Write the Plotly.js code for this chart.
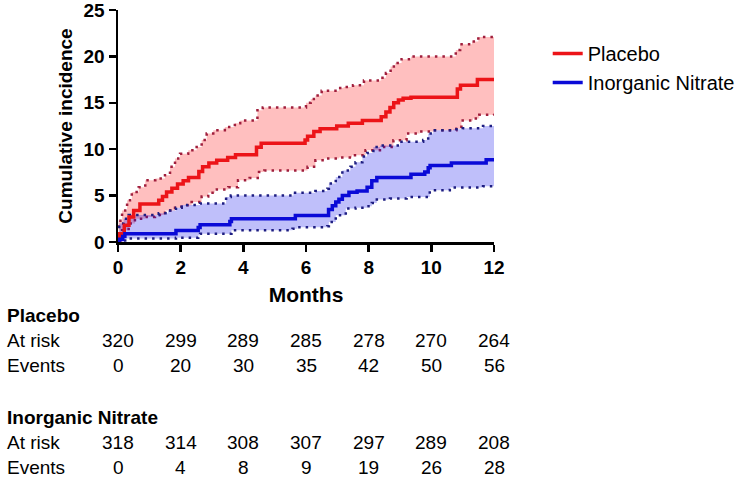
<!DOCTYPE html>
<html>
<head>
<meta charset="utf-8">
<script src="https://cdn.plot.ly/plotly-3.0.1.min.js"></script>
<style>html,body{margin:0;padding:0;background:#fff;}#chart{width:750px;height:479px;}</style>
</head>
<body>
<div id="chart"></div>
<script>
// ---- Data ----
const seriesNames = ["Placebo", "Inorganic Nitrate"];

// Placebo cumulative incidence (%)
const placeboT = [0, 0.05, 0.2, 0.35, 0.5, 0.7, 1.3, 1.42, 1.55, 1.72, 1.9, 2.08, 2.25, 2.58, 2.7, 2.9, 3.15, 3.5, 3.75, 4.42, 4.57, 5.97, 6.05, 6.25, 6.45, 6.98, 7.35, 7.8, 8.4, 8.55, 8.68, 8.8, 8.95, 9.1, 9.35, 10.83, 10.93, 11.47, 12];
const placeboV = [0, 0.9, 1.8, 2.7, 3.4, 4.1, 4.5, 4.9, 5.4, 5.8, 6.25, 6.6, 6.95, 7.6, 8.1, 8.5, 8.8, 9.1, 9.4, 10.2, 10.65, 11.0, 11.4, 11.9, 12.2, 12.5, 12.8, 13.1, 13.5, 14.0, 14.5, 15.0, 15.3, 15.5, 15.6, 16.5, 16.9, 17.5, 17.5];

const placeboUpT = [0, 0.02, 0.13, 0.29, 0.44, 0.66, 0.87, 1.19, 1.5, 1.66, 1.82, 1.98, 2.24, 2.51, 2.67, 2.83, 3.04, 3.41, 3.73, 3.9, 4.45, 4.62, 6.0, 6.15, 6.3, 6.5, 7.05, 7.2, 7.5, 7.85, 8.4, 8.55, 8.7, 8.85, 9.05, 9.35, 10.78, 10.92, 11.3, 11.5, 12];
const placeboUpV = [0, 2.3, 3.4, 4.5, 5.4, 5.9, 6.65, 6.85, 7.2, 8.1, 9.0, 9.5, 9.9, 10.25, 11.0, 11.7, 12.05, 12.4, 12.8, 13.1, 14.2, 14.5, 15.0, 15.4, 15.8, 16.3, 16.6, 16.7, 16.9, 17.4, 17.7, 18.2, 18.9, 19.3, 19.7, 20.0, 20.7, 21.3, 21.6, 22.1, 22.2];

const placeboLoT = [0, 0.13, 0.34, 0.54, 0.86, 1.18, 1.5, 1.82, 2.03, 2.35, 2.67, 2.88, 3.09, 3.52, 3.83, 4.2, 4.5, 4.67, 6.05, 6.3, 6.58, 7.05, 7.47, 7.9, 8.36, 8.79, 9.21, 9.63, 10.06, 10.8, 10.96, 11.33, 11.53, 12];
const placeboLoV = [0, 1.26, 2.0, 2.5, 2.7, 2.9, 3.4, 3.7, 3.96, 4.3, 4.9, 5.3, 5.65, 5.9, 6.65, 6.9, 7.55, 7.7, 8.1, 8.8, 9.0, 9.1, 9.35, 9.9, 10.25, 10.97, 11.7, 11.9, 12.05, 12.2, 13.1, 13.3, 13.7, 13.8];

// Inorganic Nitrate cumulative incidence (%)
const nitrateT = [0, 0.05, 0.15, 0.22, 1.85, 2.56, 2.62, 3.57, 3.62, 5.66, 6.72, 6.84, 6.95, 7.05, 7.16, 7.37, 7.63, 7.95, 8.1, 8.26, 9.35, 9.79, 9.9, 9.96, 10.64, 11.75, 12];
const nitrateV = [0, 0.3, 0.6, 0.9, 1.25, 1.55, 1.85, 2.2, 2.5, 2.85, 3.5, 3.9, 4.3, 4.6, 5.0, 5.35, 5.5, 5.9, 6.6, 6.95, 7.3, 7.55, 8.0, 8.25, 8.5, 8.85, 8.85];

const nitrateUpT = [0, 0.04, 0.18, 0.34, 1.3, 1.6, 1.85, 2.03, 2.62, 3.45, 3.6, 5.6, 6.3, 6.68, 6.73, 6.95, 7.16, 7.42, 7.58, 7.8, 7.95, 8.15, 8.36, 9.0, 9.74, 9.9, 10.06, 10.7, 11.0, 11.65, 12];
const nitrateUpV = [0, 2.0, 2.5, 2.9, 3.1, 3.4, 3.7, 4.0, 4.15, 4.85, 5.0, 5.3, 5.5, 5.75, 6.3, 7.0, 7.7, 8.1, 8.6, 9.2, 9.6, 10.25, 10.4, 10.8, 11.0, 11.7, 12.05, 12.15, 12.25, 12.5, 12.6];

const nitrateLoT = [0, 0.23, 1.85, 2.56, 2.62, 3.62, 5.57, 5.73, 6.68, 6.73, 6.95, 7.27, 7.58, 7.95, 8.1, 8.26, 8.68, 9.21, 9.95, 10.59, 11.65, 12];
const nitrateLoV = [0, 0.37, 0.47, 0.72, 0.9, 1.26, 1.44, 1.6, 1.7, 2.16, 2.88, 3.6, 3.7, 3.85, 4.2, 4.57, 4.68, 4.85, 5.58, 5.87, 6.0, 6.2];

// Numbers at risk table
const tableMonths = [0, 2, 4, 6, 8, 10, 12];
const placeboAtRisk = [320, 299, 289, 285, 278, 270, 264];
const placeboEvents = [0, 20, 30, 35, 42, 50, 56];
const nitrateAtRisk = [318, 314, 308, 307, 297, 289, 208];
const nitrateEvents = [0, 4, 8, 9, 19, 26, 28];

// ---- Styles ----
const FONT = "Liberation Sans, Arial, Helvetica, sans-serif";
const RED = "rgb(236,20,24)";
const BLUE = "rgb(10,10,215)";
const RED_CI = "rgb(160,30,60)";
const BLUE_CI = "rgb(30,30,130)";
const RED_FILL = "rgba(255,0,0,0.25)";
const BLUE_FILL = "rgba(0,0,235,0.25)";
const DOTS = "2.5px,5px";

function band(t, v, color, fill) {
  return {
    x: t, y: v, type: "scatter", mode: "lines",
    line: {shape: "hv", color: color, width: 2.5, dash: DOTS},
    fill: fill ? "tonexty" : "none", fillcolor: fill || undefined,
    showlegend: false, hoverinfo: "skip"
  };
}

const traces = [
  band(placeboLoT, placeboLoV, RED_CI, null),
  band(placeboUpT, placeboUpV, RED_CI, RED_FILL),
  band(nitrateLoT, nitrateLoV, BLUE_CI, null),
  band(nitrateUpT, nitrateUpV, BLUE_CI, BLUE_FILL),
  {x: placeboT, y: placeboV, type: "scatter", mode: "lines", name: seriesNames[0],
   line: {shape: "hv", color: RED, width: 3.5}},
  {x: nitrateT, y: nitrateV, type: "scatter", mode: "lines", name: seriesNames[1],
   line: {shape: "hv", color: BLUE, width: 3.5}}
];

// ---- Layout ----
const M = {l: 118, r: 254, t: 10, b: 237};
const H = 479, W = 750;
const plotH = H - M.t - M.b;
const plotW = W - M.l - M.r;
const plotBottom = H - M.b;
const py = px => (plotBottom - px) / plotH;  // pixel row -> paper y
const pxX = px => (px - M.l) / plotW;         // pixel col -> paper x

const annotations = [];
function label(text, yPx, bold) {
  annotations.push({xref: "paper", yref: "paper", x: pxX(4), y: py(yPx),
    xanchor: "left", yanchor: "middle", showarrow: false,
    text: bold ? "<b>" + text + "</b>" : text,
    font: {family: FONT, size: 19, color: "#000"}});
}
function row(vals, yPx) {
  vals.forEach((v, i) => annotations.push({xref: "x", yref: "paper", x: tableMonths[i], y: py(yPx),
    xanchor: "center", yanchor: "middle", showarrow: false, text: String(v),
    font: {family: FONT, size: 19, color: "#000"}}));
}
label(seriesNames[0], 315, true);
label("At risk", 340, false); row(placeboAtRisk, 340);
label("Events", 366, false); row(placeboEvents, 366);
label(seriesNames[1], 417, true);
label("At risk", 442, false); row(nitrateAtRisk, 442);
label("Events", 467, false); row(nitrateEvents, 467);

const layout = {
  width: W, height: H,
  margin: M,
  paper_bgcolor: "#fff", plot_bgcolor: "#fff",
  font: {family: FONT, color: "#000"},
  xaxis: {
    range: [0, 12], tickvals: tableMonths, ticktext: tableMonths.map(String),
    showgrid: false, zeroline: false, showline: true, linecolor: "#000", linewidth: 2.5,
    ticks: "outside", ticklen: 7, tickwidth: 2.5, tickcolor: "#000", ticklabeloverflow: "allow",
    tickfont: {family: FONT, size: 19, color: "#000", weight: "bold"},
    title: {text: "<b>Months</b>", font: {family: FONT, size: 21, color: "#000"}, standoff: 10}
  },
  yaxis: {
    range: [0, 25], tickvals: [0, 5, 10, 15, 20, 25],
    showgrid: false, zeroline: false, showline: true, linecolor: "#000", linewidth: 2.5,
    ticks: "outside", ticklen: 7, tickwidth: 2.5, tickcolor: "#000", ticklabeloverflow: "allow",
    tickfont: {family: FONT, size: 19, color: "#000", weight: "bold"},
    title: {text: "<b>Cumulative incidence</b>", font: {family: FONT, size: 19, color: "#000"}, standoff: 6}
  },
  legend: {x: pxX(550), y: py(34), xanchor: "left", yanchor: "top", traceorder: "normal",
    font: {family: FONT, size: 20, color: "#000"}, bgcolor: "rgba(0,0,0,0)", borderwidth: 0},
  annotations: annotations,
  showlegend: true
};

Plotly.newPlot("chart", traces, layout, {displayModeBar: false, staticPlot: true});
</script>
</body>
</html>
